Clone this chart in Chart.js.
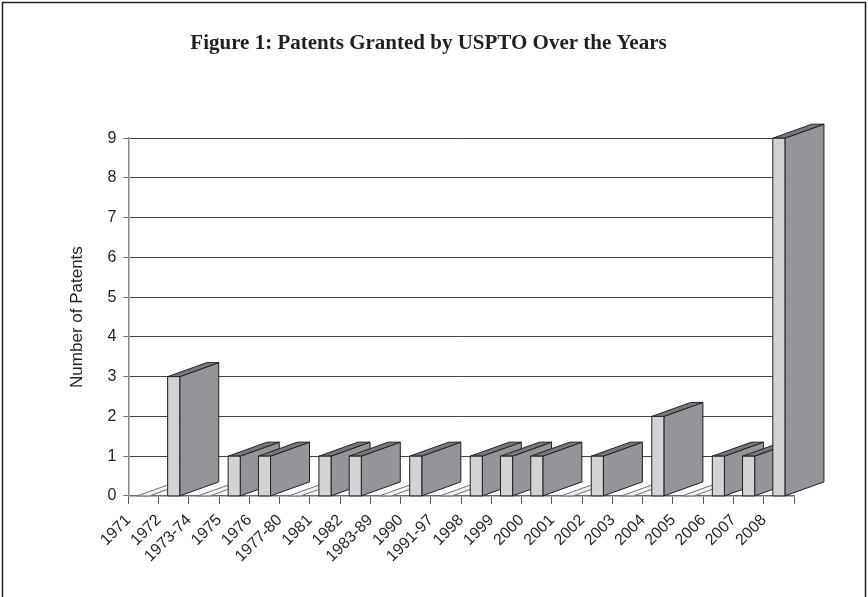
<!DOCTYPE html>
<html>
<head>
<meta charset="utf-8">
<title>Patents Granted by USPTO</title>
<script src="https://cdn.jsdelivr.net/npm/chart.js@4.4.1/dist/chart.umd.min.js"></script>
<style>
  html, body { margin: 0; padding: 0; background: #fff; }
  #wrap { width: 868px; height: 597px; }
</style>
</head>
<body>
<div id="wrap"><canvas id="patentChart" width="868" height="597"></canvas></div>
<script>
// Years (or year ranges) on the x axis
const yearLabels = ["1971", "1972", "1973-74", "1975", "1976", "1977-80", "1981", "1982", "1983-89",
  "1990", "1991-97", "1998", "1999", "2000", "2001", "2002", "2003", "2004", "2005", "2006", "2007", "2008"];
// Patents granted in each period
const patentCounts = [0, 3, 0, 1, 1, 0, 1, 1, 0, 1, 0, 1, 1, 1, 0, 1, 0, 2, 0, 1, 1, 9];
const yTicks = [0, 1, 2, 3, 4, 5, 6, 7, 8, 9];

const DEPTH_X = 39, DEPTH_Y = -14; // fake 3d depth of the columns

// draws the columns as little boxes, left to right so later ones overlap
const boxBars = {
  id: "boxBars",
  afterDatasetsDraw(chart) {
    const ctx = chart.ctx;
    const base = chart.scales.y.getPixelForValue(0);
    const meta = chart.getDatasetMeta(0);
    ctx.save();
    ctx.lineWidth = 1;
    ctx.strokeStyle = "#231f20";
    ctx.lineJoin = "round";
    meta.data.forEach(bar => {
      const x0 = bar.x - bar.width / 2;
      const x1 = bar.x + bar.width / 2;
      const top = bar.y;

      if (Math.abs(top - base) < 0.5) {
        // empty period: just the flat lid on the floor
        ctx.beginPath();
        ctx.moveTo(x0, base);
        ctx.lineTo(x1, base);
        ctx.lineTo(x1 + DEPTH_X, base + DEPTH_Y);
        ctx.lineTo(x0 + DEPTH_X, base + DEPTH_Y);
        ctx.closePath();
        ctx.fillStyle = "#f2f2f2";
        ctx.fill();
        ctx.strokeStyle = "#6d6e71";
        ctx.stroke();
        ctx.strokeStyle = "#231f20";
        return;
      }

      // side (depth) face
      ctx.beginPath();
      ctx.moveTo(x1, top);
      ctx.lineTo(x1 + DEPTH_X, top + DEPTH_Y);
      ctx.lineTo(x1 + DEPTH_X, base + DEPTH_Y);
      ctx.lineTo(x1, base);
      ctx.closePath();
      ctx.fillStyle = "#939598";
      ctx.fill();
      ctx.stroke();

      // top face
      ctx.beginPath();
      ctx.moveTo(x0, top);
      ctx.lineTo(x1, top);
      ctx.lineTo(x1 + DEPTH_X, top + DEPTH_Y);
      ctx.lineTo(x0 + DEPTH_X, top + DEPTH_Y);
      ctx.closePath();
      ctx.fillStyle = "#77787b";
      ctx.fill();
      ctx.stroke();

      // front face
      ctx.beginPath();
      ctx.rect(x0, top, x1 - x0, base - top);
      ctx.fillStyle = "#d1d3d4";
      ctx.fill();
      ctx.stroke();
    });
    ctx.restore();
  }
};

// thin frame round the figure
const frame = {
  id: "frame",
  beforeDraw(chart) {
    const ctx = chart.ctx;
    ctx.save();
    ctx.strokeStyle = "#231f20";
    ctx.lineWidth = 1.5;
    ctx.beginPath();
    ctx.moveTo(2.5, 600);
    ctx.lineTo(2.5, 2.5);
    ctx.lineTo(865.5, 2.5);
    ctx.lineTo(865.5, 600);
    ctx.stroke();
    ctx.restore();
  }
};

new Chart(document.getElementById("patentChart"), {
  type: "bar",
  data: {
    labels: yearLabels,
    datasets: [{
      label: "Number of Patents",
      data: patentCounts,
      backgroundColor: "rgba(0,0,0,0)",
      borderWidth: 0,
      barPercentage: 0.4,
      categoryPercentage: 1.0
    }]
  },
  options: {
    responsive: false,
    animation: false,
    layout: { padding: { top: 0, right: 74, bottom: 24, left: 63 } },
    plugins: {
      legend: { display: false },
      tooltip: { enabled: false },
      title: {
        display: true,
        text: "Figure 1: Patents Granted by USPTO Over the Years",
        color: "#231f20",
        font: { family: "Liberation Serif", size: 21, weight: "bold" },
        padding: { top: 31, bottom: 82 }
      }
    },
    scales: {
      x: {
        // labels are slanted; don't let them push the plot inwards
        afterFit: scale => { scale.paddingLeft = 0; scale.paddingRight = 0; },
        border: { color: "#7d5c7d", width: 1.5 },
        grid: { offset: true, drawOnChartArea: false, tickLength: 8, color: "#555" },
        ticks: {
          autoSkip: false,
          minRotation: 45,
          maxRotation: 45,
          labelOffset: -15,
          padding: 7,
          color: "#231f20",
          font: { family: "Liberation Sans", size: 16 }
        }
      },
      y: {
        min: 0,
        max: 9,
        afterBuildTicks: axis => { axis.ticks = yTicks.map(v => ({ value: v })); },
        border: { color: "#888", width: 1.5 },
        grid: { color: "#444", tickLength: 5, tickColor: "#777" },
        ticks: {
          padding: 7,
          color: "#231f20",
          font: { family: "Liberation Sans", size: 16 }
        },
        title: {
          display: true,
          text: "Number of Patents",
          color: "#231f20",
          font: { family: "Liberation Sans", size: 17 },
          padding: { top: 4, bottom: 13 }
        }
      }
    }
  },
  plugins: [frame, boxBars]
});
</script>
</body>
</html>
